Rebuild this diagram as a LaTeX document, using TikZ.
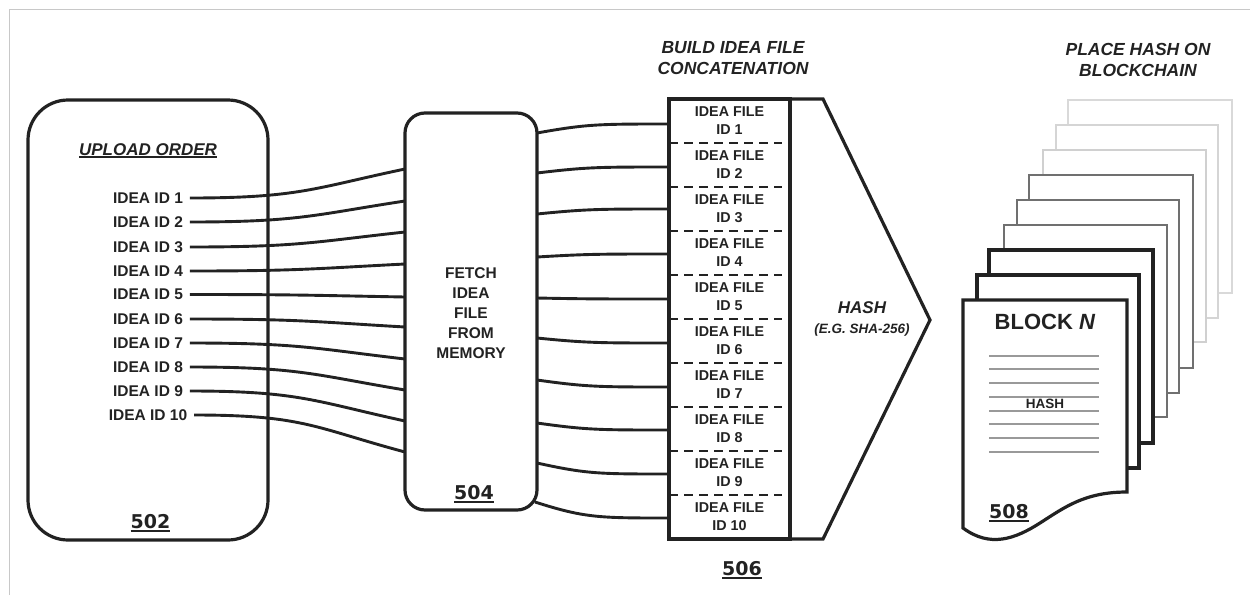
\documentclass[tikz,border=0pt]{standalone}
\usepackage{fontspec}
\usepackage{graphicx}
\setmainfont{Liberation Sans}
\newfontfamily\numfont{DejaVu Sans}
\newcommand\numul[1]{{\numfont\bfseries\fontsize{19}{22}\selectfont\setbox0=\hbox{#1}\vtop{\copy0\kern1.8pt\hrule height 2.2pt}}}
\newcommand\titul[1]{{\setbox0=\hbox{#1}\vtop{\copy0\kern1.2pt\hrule height 1.5pt}}}
\definecolor{ink}{HTML}{222222}
\definecolor{pl}{HTML}{D0D0D0}
\definecolor{pm}{HTML}{707070}
\definecolor{rl}{HTML}{999999}
\definecolor{fr}{HTML}{C8C8C8}
\begin{document}
\begin{tikzpicture}[x=1pt,y=-1pt,line join=miter,
  every node/.style={inner sep=0pt,outer sep=0pt,text=ink},
  box/.style={draw=ink,line width=3.2pt,fill=white},
  wire/.style={draw=ink,line width=2.9pt},
  lbl/.style={font=\bfseries\fontsize{15.5}{20}\selectfont},
  rowlbl/.style={font=\bfseries\fontsize{14.3}{18}\selectfont,align=center,minimum width=121pt,minimum height=44pt},
  ttl/.style={font=\bfseries\itshape\fontsize{17.5}{21}\selectfont,align=center},
  sep/.style={draw=ink,line width=2.4pt,dash pattern=on 9pt off 6pt},
  page/.style={fill=white}]
\useasboundingbox (0,0) rectangle (1250,595);
\draw[fr,line width=1pt] (9,595) -- (9,9) -- (1250,9);

% ---- 502 upload order
\node[box,rounded corners=40pt,minimum width=240pt,minimum height=440pt] (b502) at (148,320) {};
\node[anchor=base,font=\bfseries\itshape\fontsize{17}{20}\selectfont] (upl) at (148,155) {\titul{UPLOAD ORDER}};
\node[anchor=base] (n502) at (150.5,528) {\numul{502}};

\foreach \i/\ys/\ye in {1/198/169,2/222/201,3/247/232,4/271/264,5/294.5/297,6/319/327,7/343/359,8/367/390,9/391/421,10/415/452}{
  \node[lbl] (id\i) at (148,\ys) {IDEA ID \i};
  \coordinate (in\i) at (405,\ye);
  \draw[wire] ([xshift=7pt]id\i.east) .. controls +(110,0) and +(-90,{0.65*(\ys-\ye)}) .. (in\i);
}

% ---- 504 fetch
\node[box,rounded corners=20pt,minimum width=132pt,minimum height=397pt] (b504) at (471,311.5) {};
\node[lbl,align=center] (fetch) at (471,313.5) {FETCH\\IDEA\\FILE\\FROM\\MEMORY};
\node[anchor=base] (n504) at (474,499) {\numul{504}};

% ---- 506 concatenation
\node[draw=ink,line width=3.2pt,minimum width=121pt,minimum height=440pt] (b506) at (729.5,319) {};
\foreach \i in {1,...,10}{
  \node[rowlbl] (r\i) at (729.5,{99+44*(\i-0.5)}) {IDEA FILE\\ID \i};
}
\foreach \i in {1,...,9}{
  \draw[sep] (r\i.south west) -- ([xshift=-8pt]r\i.south east);
}
\foreach \i/\yb/\yc/\xb in {1/133/124/537,2/173/167/537,3/214/209/537,4/257/254/537,5/298/299/537,6/338/343/537,7/380/387/537,8/423/430/537,9/463/474/537,10/502/518/535}{
  \coordinate (out\i) at (\xb,\yb);
  \coordinate (c\i) at (669,\yc);
  \draw[wire] (out\i) .. controls +(50,{\yc-\yb}) and +(-70,0) .. (c\i);
}
\draw[draw=ink,line width=3.2pt] (b506.north east) -- (823,99) -- (930,320) -- (823,539) -- (b506.south east);
\node[anchor=base,font=\bfseries\itshape\fontsize{17}{20}\selectfont] (hash) at (862,313) {HASH};
\node[anchor=base,font=\bfseries\itshape\fontsize{13.5}{16}\selectfont] (hashsub) at (862,333) {(E.G. SHA-256)};
\node[ttl] (t506) at (733,58.5) {BUILD IDEA FILE\\CONCATENATION};
\node[anchor=base] (n506) at (742,575) {\numul{506}};

% ---- 508 blockchain
\node[ttl] (t508) at (1138,59.5) {PLACE HASH ON\\BLOCKCHAIN};
\foreach \l/\t/\r/\b/\c/\w in {1068/100/1232/293/pl!80/1.8,1056/125/1218/318/pl!90/1.8,1043/150/1206/342/pl/2,1029/175/1193/368/pm/2.6,1017/200/1179/393/pm/2.6,1004/225/1167/417/pm/2.6,989/250/1153/443/ink/3.2,977/275/1139/468/ink/3.2}{
  \draw[page,draw=\c,line width=\w pt] (\l,\t) rectangle (\r,\b);
}
\draw[page,draw=ink,line width=3.2pt] (963,528) -- (963,300) -- (1127,300) -- (1127,492)
  .. controls (1085,492) and (1065,507) .. (1040,523)
  .. controls (1015,539) and (990,548) .. (963,528) -- cycle;
\foreach \y/\w in {356/1.2,369/2.2,383/1.8,397/2.4,411/1.8,424/2.4,438/1.8,452/1.2}{
  \draw[rl,line width=\w pt] (989,\y) -- (1099,\y);
}
\node[anchor=base,font=\bfseries\fontsize{22}{26}\selectfont] (blk) at (1045,329) {BLOCK \textit{N}};
\node[anchor=base,font=\bfseries\fontsize{13.5}{16}\selectfont] (phash) at (1045,408) {HASH};
\node[anchor=base] (n508) at (1009,518) {\numul{508}};
\end{tikzpicture}
\end{document}
